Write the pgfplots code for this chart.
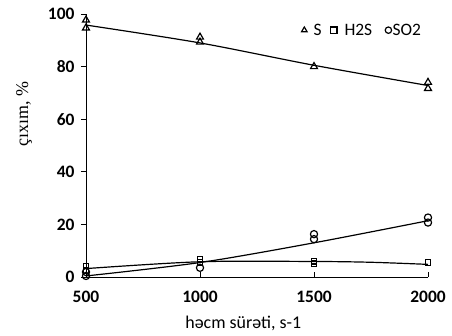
\documentclass[border=0pt]{standalone}
\usepackage{pgfplots}
\pgfplotsset{compat=1.18}
\usepackage{fontspec}
\setmainfont{Carlito}
\newfontfamily\serif{Liberation Serif}
\begin{document}
\begin{tikzpicture}
\begin{axis}[
  width=342bp, height=263bp, scale only axis,
  xmin=500, xmax=2000, ymin=0, ymax=100,
  axis x line=bottom, axis y line=left,
  axis line style={-, line width=0.8pt},
  xtick={500,1000,1500,2000}, ytick={0,20,40,60,80,100},
  tick align=inside, major tick length=5bp,
  tick style={line width=0.8pt, black},
  ytick style={xshift=-5bp},
  ticklabel style={font=\fontsize{17.5}{20}\selectfont\bfseries},
  /pgf/number format/assume math mode=true,
  /pgf/number format/1000 sep={},
  xticklabel style={yshift=-11bp},
  yticklabel style={xshift=-8bp},
  xlabel={həcm sürəti, s-1},
  xlabel style={font=\fontsize{18}{20}\selectfont, at={(axis description cs:0.46,-0.176)}, anchor=center},
  ylabel={{\serif çıxım, \%}},
  ylabel style={font=\fontsize{18}{20}\selectfont, at={(axis description cs:-0.181,0.62)}, anchor=center},
  legend style={draw=none, fill=none, at={(axis description cs:0.986,0.975)}, anchor=north east,
    font=\fontsize{17.5}{19}\selectfont,
    /tikz/column 1/.style={column sep=2.5bp},
    /tikz/column 2/.style={column sep=8bp},
    /tikz/column 3/.style={column sep=2.5bp},
    /tikz/column 4/.style={column sep=12bp},
    /tikz/column 5/.style={column sep=0bp},
    inner sep=1bp, nodes={inner xsep=1bp}},
  legend columns=-1,
  legend image code/.code={\draw[#1, mark size=3.2bp] (0.12cm,0cm) -- plot coordinates {(0.12cm,0cm)};},
  clip=false,
]
\addplot[black, only marks, mark=triangle, mark size=4bp, mark options={line width=1.2pt}]
  coordinates {(500,97.7) (500,94.7) (1000,91.2) (1000,89.3) (1500,80) (2000,74) (2000,71.7)};
\addlegendentry{\hspace{3bp}S\hspace{4bp}}
\addplot[black, only marks, mark=square, mark size=2.8bp, mark options={line width=1.2pt}]
  coordinates {(500,4.2) (500,2.5) (1000,6.8) (1000,5.5) (1500,6) (1500,5) (2000,5.5)};
\addlegendentry{\hspace{4bp}H2S\hspace{2bp}}
\addplot[black, only marks, mark=o, mark size=3.6bp, mark options={line width=1.2pt}]
  coordinates {(500,1.9) (500,0.4) (1000,3.5) (1500,16.3) (1500,14.4) (2000,22.6) (2000,20.7)};
\addlegendentry{SO2}
\addplot[black, smooth, line width=1.2pt, forget plot]
  coordinates {(500,95.8) (1000,89) (1500,80.5) (2000,72.8)};
\addplot[black, smooth, line width=1.2pt, forget plot]
  coordinates {(500,3.2) (1000,5.8) (1500,5.9) (1750,5.6) (2000,4.8)};
\addplot[black, smooth, line width=1.2pt, forget plot]
  coordinates {(500,0.4) (1000,5.5) (1500,13) (2000,21.4)};
\end{axis}
\pgfresetboundingbox
\useasboundingbox ([shift={(-86bp,-59bp)}]current axis.south west) rectangle ([shift={(24bp,14bp)}]current axis.north east);
\end{tikzpicture}
\end{document}
